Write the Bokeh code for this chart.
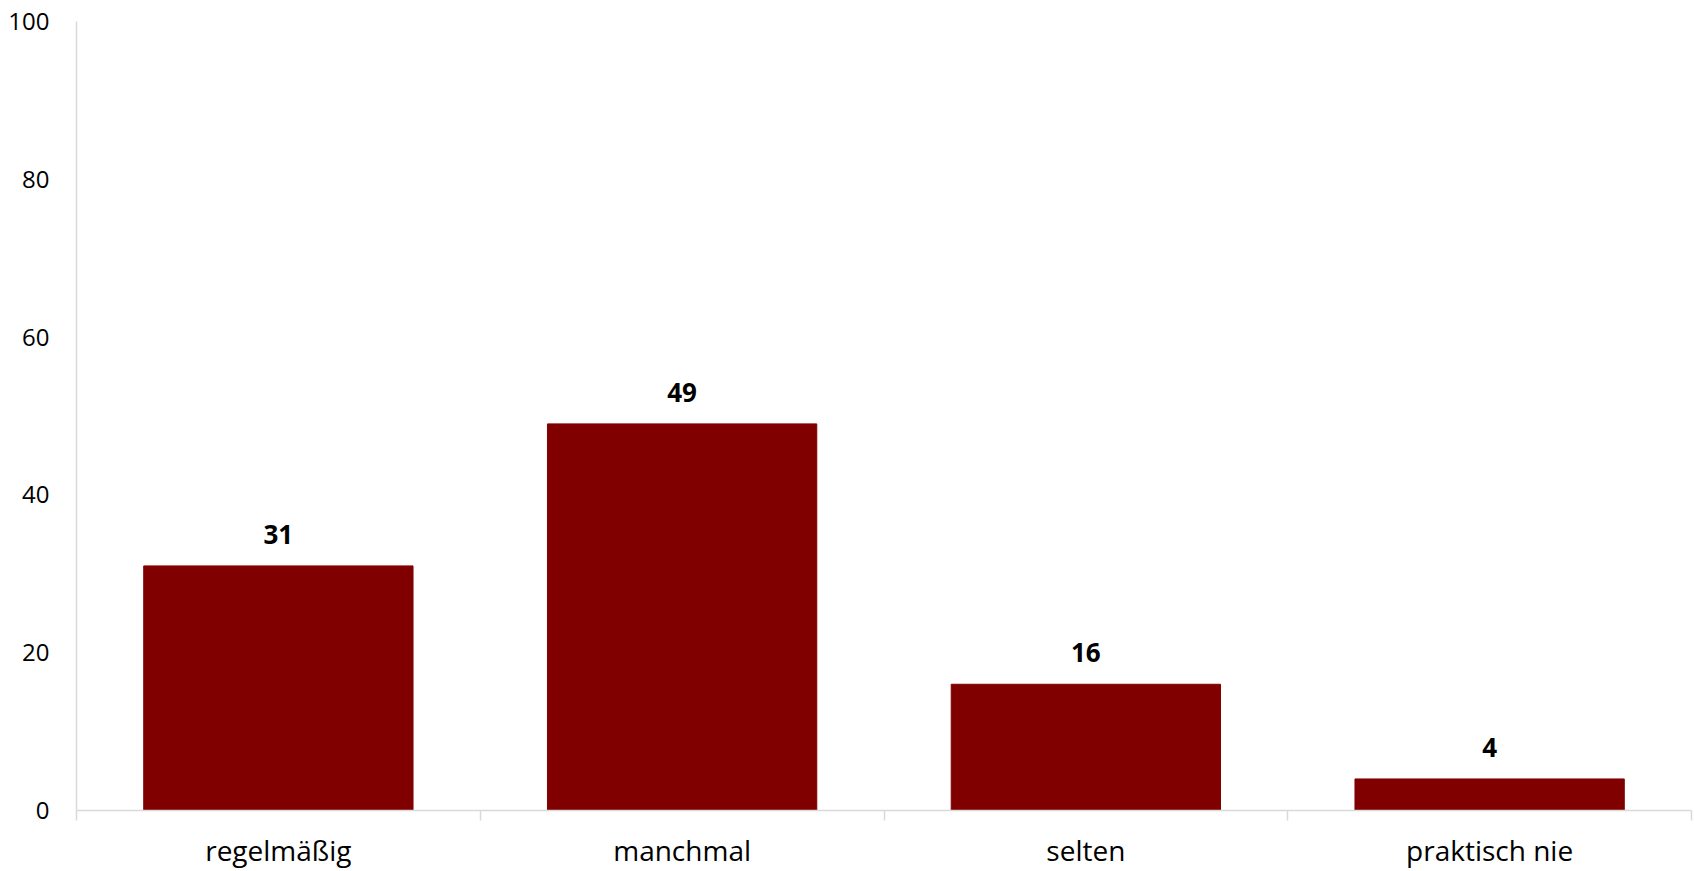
import numpy as np
from bokeh.plotting import figure
from bokeh.models import Range1d, FixedTicker, ColumnDataSource, LabelSet
from bokeh.core.properties import value
from bokeh.embed import file_html
from bokeh.resources import INLINE

categories = ["regelmäßig", "manchmal", "selten", "praktisch nie"]
values = [31, 49, 16, 4]
y_ticks = [0, 20, 40, 60, 80, 100]

xs = np.arange(len(categories)) + 0.5
src = ColumnDataSource(dict(x=xs, top=values, label=[str(v) for v in values]))

p = figure(width=1694, height=871, output_backend="svg", toolbar_location=None,
           x_range=Range1d(0, len(categories)), y_range=Range1d(0, 100),
           min_border_left=76, min_border_right=3, min_border_top=21, min_border_bottom=59)
p.outline_line_color = None
p.grid.grid_line_color = None

p.vbar(x="x", top="top", width=0.667, bottom=0, source=src, color="#800000")

labels = LabelSet(x="x", y="top", text="label", source=src, y_offset=22,
                  text_align="center", text_baseline="alphabetic",
                  text_font=value("Open Sans"), text_font_size=value("26px"),
                  text_font_style=value("bold"), text_color=value("#000000"))
p.add_layout(labels)

# x axis
p.xaxis.ticker = FixedTicker(ticks=list(xs), minor_ticks=list(range(len(categories) + 1)))
p.xaxis.major_label_overrides = {float(x): c for x, c in zip(xs, categories)}
p.xaxis.major_tick_line_color = None
p.xaxis.major_tick_out = 0
p.xaxis.major_tick_in = 0
p.xaxis.minor_tick_line_color = "#d9d9d9"
p.xaxis.minor_tick_line_width = 1.5
p.xaxis.minor_tick_out = 10
p.xaxis.minor_tick_in = 0
p.xaxis.axis_line_color = "#d9d9d9"
p.xaxis.axis_line_width = 1.5
p.xaxis.major_label_text_font = "Open Sans"
p.xaxis.major_label_text_font_size = "28px"
p.xaxis.major_label_text_color = "#000000"
p.xaxis.major_label_standoff = 10

# y axis
p.yaxis.ticker = FixedTicker(ticks=y_ticks, minor_ticks=[])
p.yaxis.major_tick_line_color = None
p.yaxis.major_tick_out = 0
p.yaxis.major_tick_in = 0
p.yaxis.minor_tick_line_color = None
p.yaxis.axis_line_color = "#d9d9d9"
p.yaxis.axis_line_width = 1.5
p.yaxis.major_label_text_font = "Open Sans"
p.yaxis.major_label_text_font_size = "24px"
p.yaxis.major_label_text_color = "#000000"
p.yaxis.major_label_standoff = 27

open("out.html", "w").write(file_html(p, INLINE))
